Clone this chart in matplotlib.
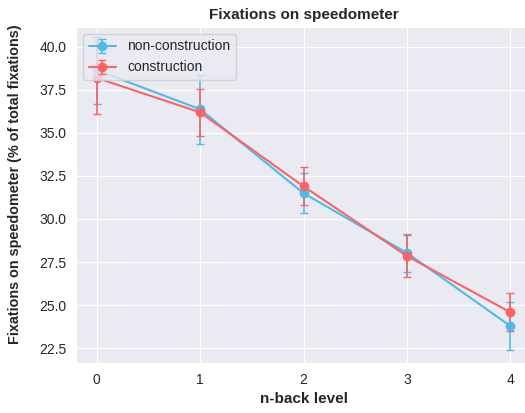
import numpy as np
import matplotlib.pyplot as plt
import seaborn as sns

# n-back levels
levels = [0, 1, 2, 3, 4]

# fixations on speedometer (% of total fixations)
non_construction = [38.65, 36.38, 31.5, 28.03, 23.78]
non_construction_err = [1.95, 2.0, 1.15, 1.1, 1.4]
construction = [38.2, 36.2, 31.9, 27.85, 24.58]
construction_err = [2.12, 1.37, 1.1, 1.2, 1.1]

sns.set_style("darkgrid")
plt.rcParams['font.family'] = ['Liberation Sans', 'DejaVu Sans']

fig, ax = plt.subplots(figsize=(5.25, 4.13), dpi=100)
fig.subplots_adjust(left=76/525, right=531/525, top=1-27/413, bottom=1-363/413)

ax.errorbar(levels, non_construction, yerr=non_construction_err, color="#4dbbea",
            marker="o", markersize=6, capsize=3, linewidth=1.5, elinewidth=1.2,
            label="non-construction")
ax.errorbar(levels, construction, yerr=construction_err, color="#fa6464",
            marker="o", markersize=6, capsize=3, linewidth=1.5, elinewidth=1.2,
            label="construction")

ax.set_title("Fixations on speedometer", fontweight="bold", fontsize=11)
ax.set_xlabel("n-back level", fontweight="bold", fontsize=11)
ax.set_ylabel("Fixations on speedometer (% of total fixations)", fontweight="bold", fontsize=10.4)
ax.yaxis.set_label_coords(-0.118, 0.533)
ax.set_xticks(levels)
ax.set_yticks(np.arange(22.5, 40.01, 2.5))
ax.set_xlim(-0.2, 4.2)
ax.set_ylim(21.63, 41.16)
ax.tick_params(labelsize=10)
ax.legend(loc="upper left", fontsize=10)

plt.savefig("out.png")
